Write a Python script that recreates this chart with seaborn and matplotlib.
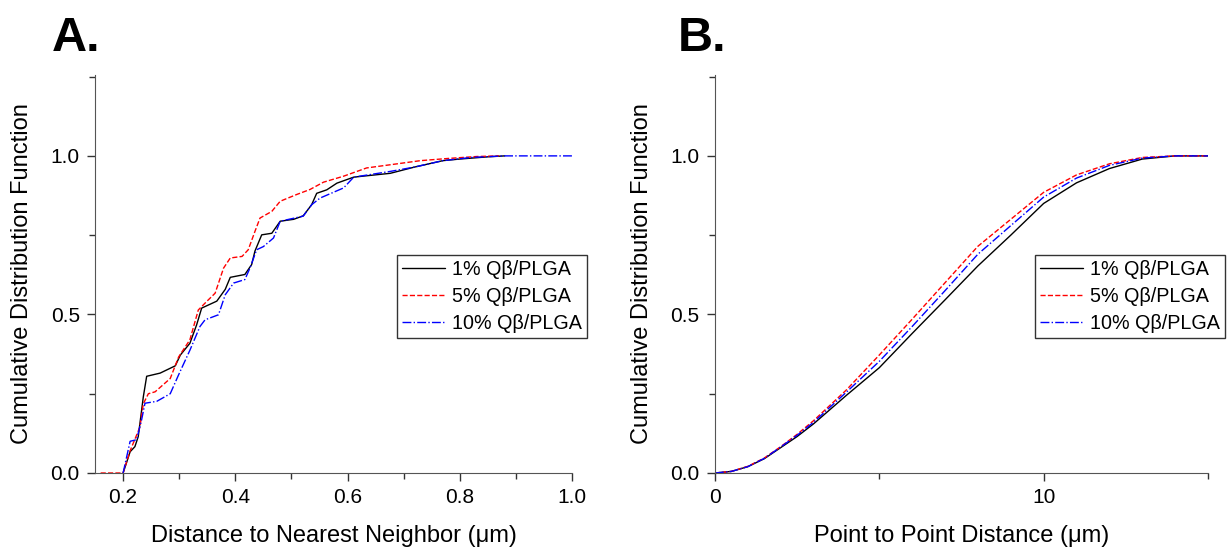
import numpy as np
import pandas as pd
import seaborn as sns
import matplotlib.pyplot as plt
from matplotlib.ticker import MultipleLocator

sns.set_style('ticks')
plt.rcParams['font.family'] = ['Liberation Sans', 'DejaVu Sans']
plt.rcParams['text.color'] = 'black'
plt.rcParams['axes.labelcolor'] = 'black'
plt.rcParams['xtick.labelcolor'] = 'black'
plt.rcParams['ytick.labelcolor'] = 'black'

labels = ['1% Qβ/PLGA', '5% Qβ/PLGA', '10% Qβ/PLGA']
colors = ['black', 'red', 'blue']
dashes = ['-', '--', '-.']

# panel A: nearest neighbour CDF
nn_x_1 = [0.2, 0.2125, 0.221, 0.227, 0.236, 0.242, 0.266, 0.293, 0.302, 0.319, 0.331, 0.340,
          0.367, 0.382, 0.391, 0.417, 0.429, 0.435, 0.447, 0.465, 0.480, 0.504, 0.521, 0.536,
          0.545, 0.563, 0.581, 0.611, 0.676, 0.72, 0.77, 0.80, 0.85, 0.88]
nn_y_1 = [0.0, 0.067, 0.083, 0.115, 0.24, 0.305, 0.315, 0.338, 0.372, 0.409, 0.467, 0.52,
          0.542, 0.579, 0.617, 0.626, 0.657, 0.70, 0.751, 0.756, 0.794, 0.80, 0.811, 0.846,
          0.882, 0.893, 0.914, 0.933, 0.945, 0.965, 0.985, 0.99, 0.997, 1.0]
nn_x_5 = [0.16, 0.2, 0.2125, 0.23, 0.236, 0.245, 0.257, 0.284, 0.299, 0.319, 0.334, 0.349,
          0.364, 0.379, 0.391, 0.412, 0.423, 0.435, 0.444, 0.465, 0.480, 0.509, 0.533, 0.557,
          0.593, 0.634, 0.676, 0.73, 0.78, 0.83, 0.87]
nn_y_5 = [0.0, 0.0, 0.07, 0.145, 0.218, 0.25, 0.256, 0.298, 0.366, 0.42, 0.514, 0.541,
          0.567, 0.646, 0.678, 0.683, 0.704, 0.762, 0.804, 0.825, 0.857, 0.878, 0.894, 0.917,
          0.936, 0.962, 0.972, 0.985, 0.992, 0.998, 1.0]
nn_x_10 = [0.2, 0.2125, 0.224, 0.233, 0.239, 0.26, 0.284, 0.299, 0.319, 0.337, 0.346, 0.37,
           0.382, 0.397, 0.417, 0.426, 0.438, 0.45, 0.468, 0.48, 0.521, 0.536, 0.551, 0.593,
           0.611, 0.676, 0.72, 0.77, 0.82, 0.88, 1.0]
nn_y_10 = [0.0, 0.1, 0.105, 0.168, 0.22, 0.226, 0.25, 0.31, 0.387, 0.462, 0.483, 0.499,
           0.562, 0.599, 0.61, 0.646, 0.704, 0.714, 0.741, 0.794, 0.81, 0.846, 0.867, 0.899,
           0.933, 0.951, 0.965, 0.985, 0.995, 1.0, 1.0]

# panel B: point to point distance CDF
pp_x = [0, 0.5, 1, 1.5, 2, 2.5, 3, 4, 5, 6, 7, 8, 9, 10, 11, 12, 13, 14, 15]
pp_y_1 = [0.0, 0.005, 0.02, 0.045, 0.08, 0.115, 0.155, 0.245, 0.332, 0.44, 0.546, 0.653, 0.75, 0.85, 0.915, 0.96, 0.99, 1.0, 1.0]
pp_y_5 = [0.0, 0.005, 0.021, 0.047, 0.083, 0.122, 0.165, 0.262, 0.372, 0.485, 0.60, 0.715, 0.80, 0.885, 0.94, 0.975, 0.995, 1.0, 1.0]
pp_y_10 = [0.0, 0.005, 0.02, 0.046, 0.082, 0.119, 0.16, 0.255, 0.352, 0.462, 0.575, 0.69, 0.78, 0.87, 0.93, 0.97, 0.993, 1.0, 1.0]

fig = plt.figure(figsize=(12.28, 5.5), dpi=100)
axA = fig.add_axes([0.0774, 0.14, 0.3884, 0.7236])
axB = fig.add_axes([0.5822, 0.14, 0.4015, 0.7236])

for x, y, lab, c, ls in zip([nn_x_1, nn_x_5, nn_x_10], [nn_y_1, nn_y_5, nn_y_10], labels, colors, dashes):
    sns.lineplot(x=x, y=y, ax=axA, color=c, linestyle=ls, lw=1, label=lab, sort=False, estimator=None)

for y, lab, c, ls in zip([pp_y_1, pp_y_5, pp_y_10], labels, colors, dashes):
    sns.lineplot(x=pp_x, y=y, ax=axB, color=c, linestyle=ls, lw=1, label=lab, sort=False, estimator=None)

axA.set_xlim(0.15, 1.0)
axA.xaxis.set_major_locator(MultipleLocator(0.2))
axA.xaxis.set_minor_locator(MultipleLocator(0.1))
axA.set_xlabel('Distance to Nearest Neighbor (μm)', fontsize=17)

axB.set_xlim(0, 15)
axB.xaxis.set_major_locator(MultipleLocator(10))
axB.xaxis.set_minor_locator(MultipleLocator(5))
axB.set_xlabel('Point to Point Distance (μm)', fontsize=17)

for ax, lx, ylx in [(axA, 0.633, -0.13), (axB, 0.649, -0.126)]:
    ax.set_ylim(0, 1.255)
    ax.yaxis.set_major_locator(MultipleLocator(0.5))
    ax.yaxis.set_minor_locator(MultipleLocator(0.25))
    ax.yaxis.set_major_formatter(plt.FormatStrFormatter('%.1f'))
    ax.set_ylabel('Cumulative Distribution Function', fontsize=17)
    ax.yaxis.set_label_coords(ylx, 0.5)
    ax.xaxis.set_label_coords(0.5, -0.13)
    ax.tick_params(which='both', direction='out', labelsize=15, color='#333333', width=1, pad=5)
    ax.tick_params(which='major', length=6)
    ax.tick_params(which='minor', length=4)
    for s in ['top', 'right']:
        ax.spines[s].set_visible(False)
    for s in ['left', 'bottom']:
        ax.spines[s].set_color('#555555')
    leg = ax.legend(loc='upper left', bbox_to_anchor=(lx, 0.548), fontsize=14.2, frameon=True,
                    fancybox=False, edgecolor='#333333', framealpha=1, borderaxespad=0,
                    handlelength=2.2, handletextpad=0.35, labelspacing=0.4, borderpad=0.25)
    leg.get_frame().set_linewidth(1)
    leg.set_clip_on(False)

fig.text(0.042, 0.908, 'A.', fontsize=35, fontweight='bold')
fig.text(0.552, 0.908, 'B.', fontsize=35, fontweight='bold')

fig.savefig('out.png', dpi=100)
